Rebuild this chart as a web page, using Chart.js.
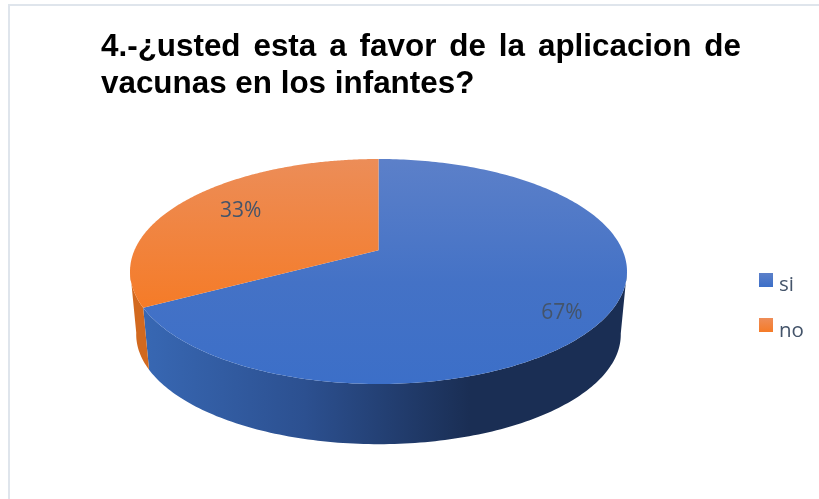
<!DOCTYPE html>
<html>
<head>
<meta charset="utf-8">
<script src="https://cdn.jsdelivr.net/npm/chart.js@4"></script>
<style>
  body { margin: 0; background: #fff; }
  canvas { display: block; }
</style>
</head>
<body>
<canvas id="myChart" width="819" height="499"></canvas>
<script>
const sliceLabels = ['si', 'no'];
const sliceValues = [67, 33];
const titleLines = ['4.-¿usted esta a favor de la aplicacion de', 'vacunas en los infantes?'];

const ctx = document.getElementById('myChart').getContext('2d');

// face colours
const blueFace = ctx.createLinearGradient(0, 159, 0, 384);
blueFace.addColorStop(0, '#5c80c9');
blueFace.addColorStop(0.55, '#4472c6');
blueFace.addColorStop(1, '#3c6fc8');
const orangeFace = ctx.createLinearGradient(0, 159, 0, 310);
orangeFace.addColorStop(0, '#ec8d58');
orangeFace.addColorStop(1, '#f57b27');

// side wall colours
const blueWall = ctx.createLinearGradient(140, 0, 470, 0);
blueWall.addColorStop(0, '#3868b4');
blueWall.addColorStop(0.5, '#2c5090');
blueWall.addColorStop(1, '#1a2e54');
const orangeWall = '#d2691f';

// legend swatches
const blueKey = ctx.createLinearGradient(0, 273, 0, 287);
blueKey.addColorStop(0, '#5c80c9');
blueKey.addColorStop(1, '#3c6fc8');
const orangeKey = ctx.createLinearGradient(0, 318, 0, 332);
orangeKey.addColorStop(0, '#ee8d58');
orangeKey.addColorStop(1, '#f57b27');

const stretch = 248.5 / 112.5; // pie is wider than tall
const lift = -0.19;            // perspective, moves the centre of the pie up
const depth = 63;
const shrink = 0.975;          // bottom rim a bit smaller
const labelRadius = [0.855, 0.72];
const labelTurn = [7, 2];      // degrees

// circle point -> point on the tilted pie
function project(arc, angle, r) {
    const ux = r * Math.cos(angle);
    const uy = r * Math.sin(angle);
    const d = 1 + lift * uy;
    return {
        x: arc.x + ux * Math.sqrt(1 - lift * lift) / d * arc.outerRadius * stretch,
        y: arc.y + (uy + lift) / d * arc.outerRadius,
    };
}

function lower(arc, p) {
    return {
        x: arc.x + (p.x - arc.x) * shrink,
        y: arc.y + (p.y - arc.y) * shrink + depth,
    };
}

function rim(arc) {
    const pts = [];
    const steps = 240;
    for (let i = 0; i <= steps; i++) {
        pts.push(project(arc, arc.startAngle + (arc.endAngle - arc.startAngle) * i / steps, 1));
    }
    return pts;
}

const pie3d = {
    id: 'pie3d',
    beforeDatasetsDraw(chart) {
        const c = chart.ctx;
        const arcs = chart.getDatasetMeta(0).data;
        const walls = [blueWall, orangeWall];
        const faces = [blueFace, orangeFace];

        arcs.forEach((arc, i) => {
            const front = rim(arc).filter(p => p.y >= arc.y - 2);
            c.beginPath();
            front.forEach((p, k) => k ? c.lineTo(p.x, p.y) : c.moveTo(p.x, p.y));
            front.reverse().forEach(p => {
                const q = lower(arc, p);
                c.lineTo(q.x, q.y);
            });
            c.closePath();
            c.fillStyle = walls[i];
            c.fill();
        });

        arcs.forEach((arc, i) => {
            const apex = project(arc, 0, 0);
            c.beginPath();
            c.moveTo(apex.x, apex.y);
            rim(arc).forEach(p => c.lineTo(p.x, p.y));
            c.closePath();
            c.fillStyle = faces[i];
            c.fill();
        });

        const total = sliceValues.reduce((a, b) => a + b, 0);
        c.font = '21px "Open Sans"';
        c.fillStyle = '#44546a';
        c.textAlign = 'center';
        c.textBaseline = 'middle';
        arcs.forEach((arc, i) => {
            const mid = (arc.startAngle + arc.endAngle) / 2 + labelTurn[i] * Math.PI / 180;
            const p = project(arc, mid, labelRadius[i]);
            c.fillText(Math.round(sliceValues[i] / total * 100) + '%', p.x, p.y);
        });
        return false;
    },
    beforeDraw(chart) {
        const c = chart.ctx;
        c.save();
        c.strokeStyle = '#dfe5ec';
        c.lineWidth = 2;
        c.strokeRect(9, 5, 900, 600);
        c.restore();
    },
    afterDraw(chart) {
        const c = chart.ctx;
        c.save();
        c.font = 'bold 31.4px "Liberation Sans"';
        c.fillStyle = '#000';
        c.textAlign = 'left';
        c.textBaseline = 'alphabetic';
        // first line is justified like the original
        const spaces = titleLines[0].split(' ').length - 1;
        c.wordSpacing = (640 - c.measureText(titleLines[0]).width) / spaces + 'px';
        c.fillText(titleLines[0], 101, 56);
        c.wordSpacing = '0px';
        c.fillText(titleLines[1], 101, 93);

        // legend, the built-in one can't put the text this close to the box
        c.font = '20.5px "Open Sans"';
        [blueKey, orangeKey].forEach((key, i) => {
            c.fillStyle = key;
            c.fillRect(759, 273 + i * 45, 14, 14);
            c.fillStyle = '#44546a';
            c.fillText(sliceLabels[i], 779, 291 + i * 46);
        });
        c.restore();
    },
};

const data = {
    labels: sliceLabels,
    datasets: [{
        data: sliceValues,
        backgroundColor: [blueFace, orangeFace],
        borderWidth: 0,
    }],
};

const config = {
    type: 'pie',
    data: data,
    plugins: [pie3d],
    options: {
        responsive: false,
        animation: false,
        layout: { padding: { left: 130, right: 192, top: 159, bottom: 115 } },
        plugins: {
            title: { display: false },
            tooltip: { enabled: false },
            legend: { display: false },
        },
    },
};

const myChart = new Chart(ctx, config);
</script>
</body>
</html>
